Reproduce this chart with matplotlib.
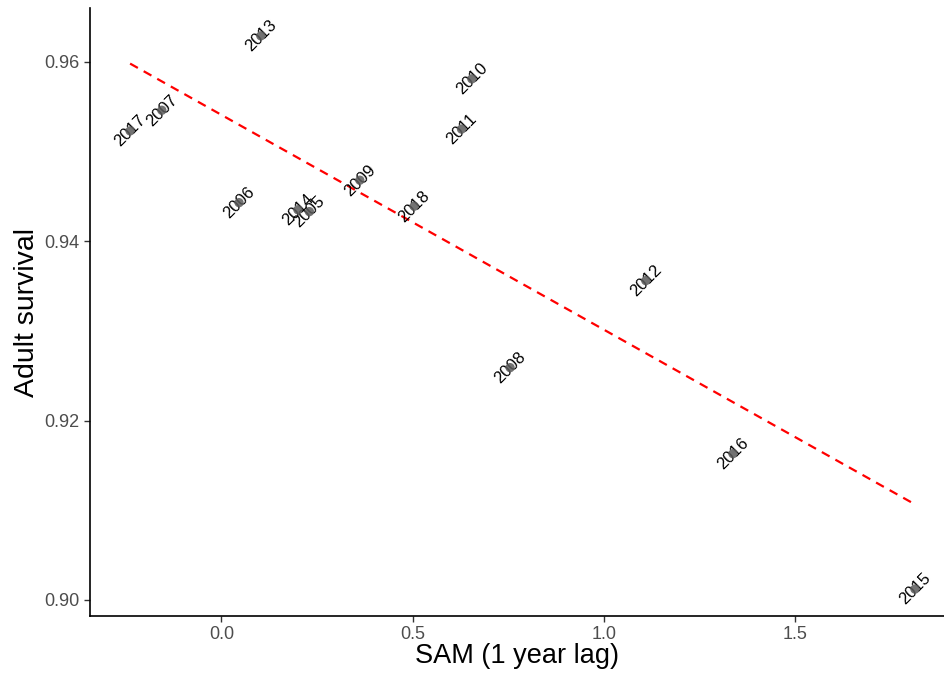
import numpy as np
import matplotlib.pyplot as plt

plt.rcParams['font.family'] = ['Liberation Sans', 'DejaVu Sans']

years = ['2017', '2007', '2013', '2006', '2014', '2005', '2009', '2018',
         '2010', '2011', '2012', '2008', '2016', '2015']
sam = [-0.239, -0.156, 0.103, 0.046, 0.200, 0.230, 0.362, 0.504,
       0.655, 0.628, 1.110, 0.755, 1.338, 1.814]
survival = [0.9523, 0.9546, 0.9629, 0.9443, 0.9435, 0.9433, 0.9468, 0.9439,
            0.9581, 0.9525, 0.9356, 0.9259, 0.9163, 0.9012]

x = np.array(sam)
y = np.array(survival)

fig = plt.figure(figsize=(9.44, 6.77), dpi=100)
ax = fig.add_axes([0.0953, 0.0901, 0.9047, 0.898])

# linear fit, drawn over the data range
b, a = np.polyfit(x, y, 1)
xl = np.array([x.min(), x.max()])
ax.plot(xl, a + b * xl, color='red', linestyle=(0, (4, 3)), linewidth=1.6, zorder=2)

ax.scatter(x, y, s=45, color='#5a5a5a', alpha=0.85, edgecolors='none', zorder=4)
for lab, xi, yi in zip(years, x, y):
    ax.text(xi, yi, lab, rotation=45, ha='center', va='center',
            fontsize=12, color='black', rotation_mode='anchor', zorder=3)

ax.set_xlim(-0.344, 1.89)
ax.set_ylim(0.8982, 0.966)
ax.set_xticks([0.0, 0.5, 1.0, 1.5])
ax.set_xticklabels(['0.0', '0.5', '1.0', '1.5'])
ax.set_yticks([0.90, 0.92, 0.94, 0.96])
ax.set_yticklabels(['0.90', '0.92', '0.94', '0.96'])

ax.tick_params(axis='both', labelsize=13, labelcolor='#4d4d4d', color='#333333',
               length=4, width=1)
ax.spines['top'].set_visible(False)
ax.spines['right'].set_visible(False)
ax.spines['left'].set_linewidth(1.2)
ax.spines['bottom'].set_linewidth(1.2)

ax.set_xlabel('SAM (1 year lag)', fontsize=19.5, labelpad=0)
ax.set_ylabel('Adult survival', fontsize=20.5, labelpad=3)

fig.savefig('out.png', dpi=100)
